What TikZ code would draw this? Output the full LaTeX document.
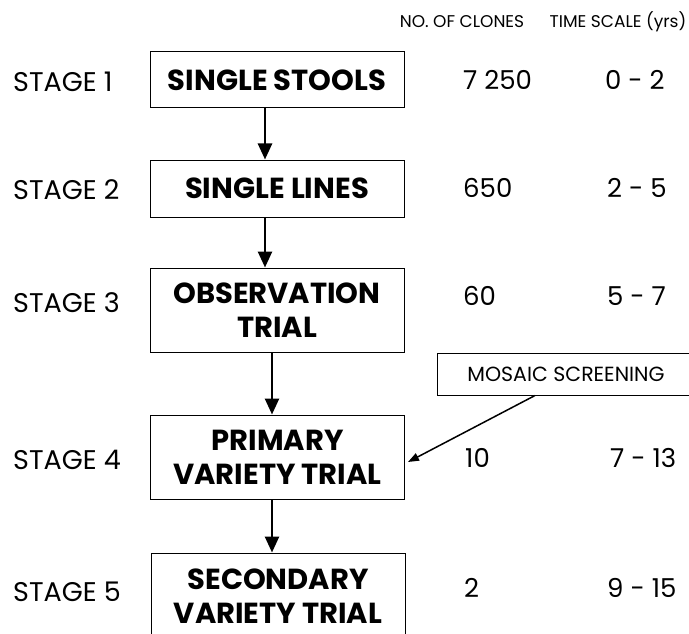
\documentclass[tikz,border=0pt]{standalone}
\usepackage{fontspec}
\setmainfont{Poppins}
\usetikzlibrary{arrows.meta}
\begin{document}
\begin{tikzpicture}[x=1pt,y=-1pt,
  stagebox/.style={draw, line width=1pt, minimum width=254pt, inner sep=0pt,
    font=\bfseries\fontsize{29}{34}\selectfont, align=center},
  stagelbl/.style={font=\fontsize{27}{30}\selectfont, anchor=west, inner sep=0pt},
  numlbl/.style={font=\fontsize{26}{30}\selectfont, anchor=west, inner sep=0pt},
  hdr/.style={font=\fontsize{17}{20}\selectfont, inner sep=0pt},
  flow/.style={line width=2.6pt, -{Triangle[length=16pt,width=14pt]}},
  thinarrow/.style={line width=1.5pt, -{Triangle[length=11pt,width=8pt]}}]
\useasboundingbox (0,0) rectangle (689,634);

% header
\node[hdr] (h1) at (462,22) {NO. OF CLONES};
\node[hdr] (h2) at (618,22) {TIME SCALE (yrs)};

% boxes
\node[stagebox, minimum height=56pt] (b1) at (277,80) {SINGLE STOOLS};
\node[stagebox, minimum height=57pt] (b2) at (277,188.5) {SINGLE LINES};
\node[stagebox, minimum height=84pt] (b3) at (277,310) {OBSERVATION\\TRIAL};
\node[stagebox, minimum height=84pt] (b4) at (277.5,457) {PRIMARY\\VARIETY TRIAL};
\node[stagebox, minimum height=86pt] (b5) at (278,596) {SECONDARY\\VARIETY TRIAL};

% stage labels
\node[stagelbl] (s1) at (13,82) {STAGE 1};
\node[stagelbl] (s2) at (13,190) {STAGE 2};
\node[stagelbl] (s3) at (13,303) {STAGE 3};
\node[stagelbl] (s4) at (13,460) {STAGE 4};
\node[stagelbl] (s5) at (13,592) {STAGE 5};

% numbers of clones
\node[numlbl] (n1) at (463,80) {7 250};
\node[numlbl] (n2) at (463,188) {650};
\node[numlbl] (n3) at (463,296) {60};
\node[numlbl] (n4) at (465,458) {10};
\node[numlbl] (n5) at (464,588) {2};

% time scale
\node[numlbl] (t1) at (605,80) {0 - 2};
\node[numlbl] (t2) at (607,188) {2 - 5};
\node[numlbl] (t3) at (607,296) {5 - 7};
\node[numlbl] (t4) at (610,458) {7 - 13};
\node[numlbl] (t5) at (607,588) {9 - 15};

% mosaic screening
\node[draw, line width=1pt, minimum width=258pt, minimum height=42pt, inner sep=0pt,
  font=\fontsize{20.5}{24}\selectfont] (m) at (566,374) {MOSAIC SCREENING};

% arrows
\draw[flow] ([xshift=-12pt]b1.south) -- ([xshift=-12pt]b2.north);
\draw[flow] ([xshift=-12pt]b2.south) -- ([xshift=-12pt]b3.north);
\draw[flow] ([xshift=-5pt]b3.south) -- ([xshift=-5.5pt]b4.north);
\draw[flow] ([xshift=-5.5pt]b4.south) -- ([xshift=-6pt]b5.north);
\draw[thinarrow] ([xshift=-31pt]m.south) -- ([xshift=3pt,yshift=-5pt]b4.east);
\end{tikzpicture}
\end{document}
